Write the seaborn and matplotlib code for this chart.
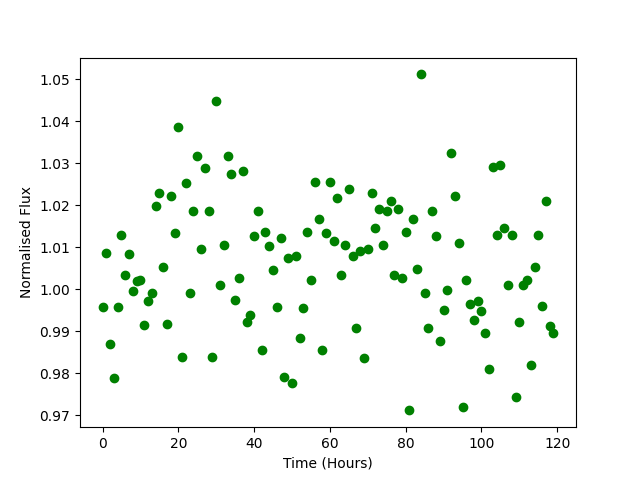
import pandas as pd
import seaborn as sns
import matplotlib
matplotlib.use("Agg")
import matplotlib.pyplot as plt

# Hourly normalised flux readings
hours = list(range(120))
flux = [
    0.9959, 1.0087, 0.9871, 0.9790, 0.9957, 1.0130, 1.0033, 1.0083, 0.9995, 1.0019,
    1.0021, 0.9914, 0.9973, 0.9990, 1.0199, 1.0230, 1.0052, 0.9918, 1.0223, 1.0133,
    1.0387, 0.9840, 1.0252, 0.9990, 1.0187, 1.0318, 1.0095, 1.0288, 1.0187, 0.9840,
    1.0447, 1.0011, 1.0106, 1.0318, 1.0275, 0.9975, 1.0026, 1.0281, 0.9923, 0.9940,
    1.0126, 1.0185, 0.9856, 1.0137, 1.0104, 1.0045, 0.9959, 1.0123, 0.9792, 1.0075,
    0.9778, 1.0080, 0.9885, 0.9956, 1.0137, 1.0023, 1.0256, 1.0166, 0.9856, 1.0133,
    1.0256, 1.0116, 1.0217, 1.0033, 1.0105, 1.0238, 1.0080, 0.9907, 1.0090, 0.9836,
    1.0095, 1.0230, 1.0145, 1.0190, 1.0105, 1.0187, 1.0209, 1.0033, 1.0190, 1.0028,
    1.0136, 0.9712, 1.0166, 1.0049, 1.0511, 0.9992, 0.9907, 1.0186, 1.0126, 0.9876,
    0.9950, 0.9999, 1.0323, 1.0223, 1.0111, 0.9721, 1.0023, 0.9966, 0.9926, 0.9973,
    0.9949, 0.9897, 0.9811, 1.0290, 1.0130, 1.0295, 1.0145, 1.0010, 1.0128, 0.9745,
    0.9923, 1.0010, 1.0021, 0.9821, 1.0054, 1.0128, 0.9961, 1.0209, 0.9912, 0.9895,
]

df = pd.DataFrame({"hours": hours, "flux": flux})

fig, ax = plt.subplots(figsize=(6.4, 4.8), dpi=100)
sns.scatterplot(data=df, x="hours", y="flux", ax=ax,
                color="green", s=36, edgecolor="green", linewidth=1)
ax.set_xlabel("Time (Hours)")
ax.set_ylabel("Normalised Flux")

plt.savefig("out.png", dpi=100)
